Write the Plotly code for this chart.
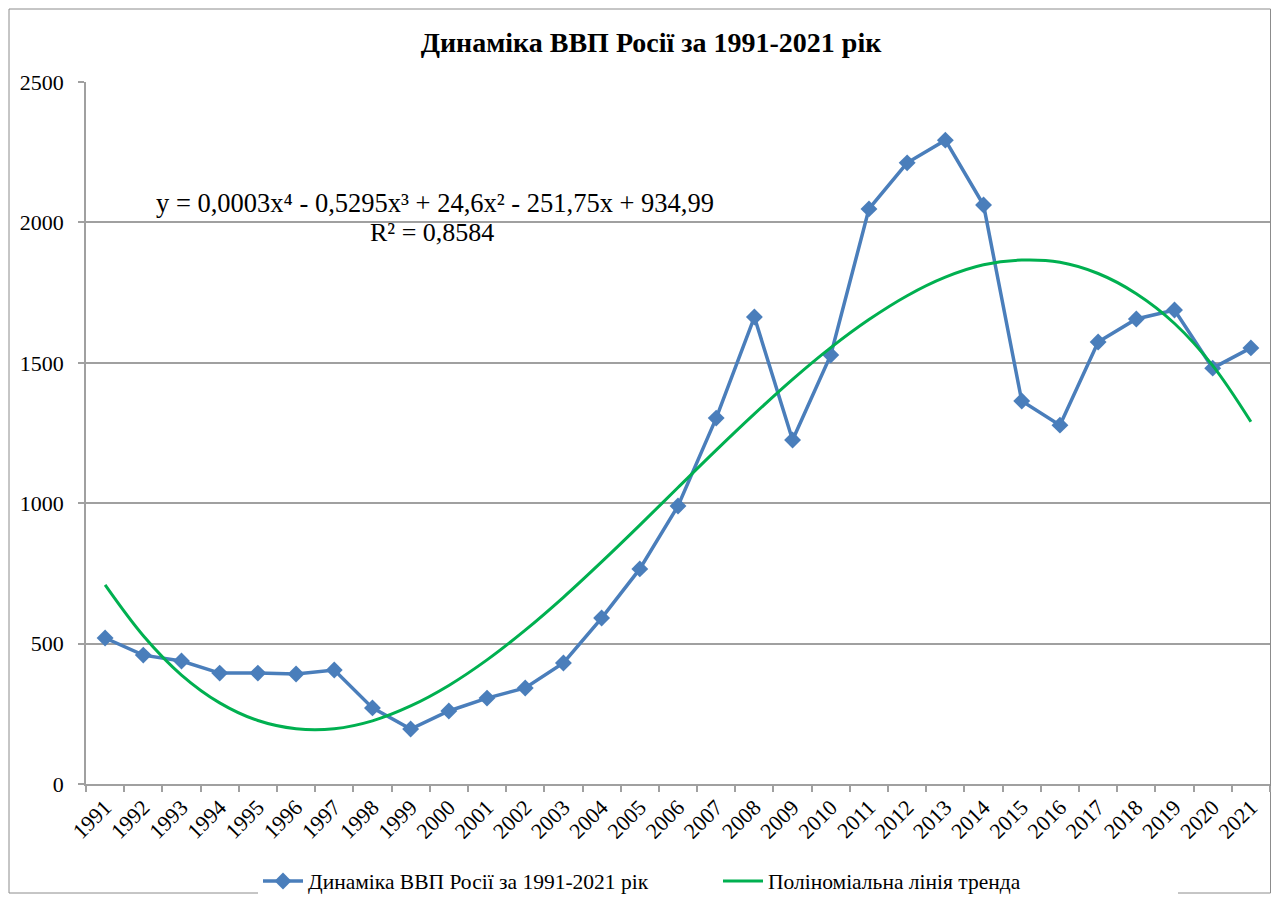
import plotly.graph_objects as go

years = [str(y) for y in range(1991, 2022)]
gdp = [520, 459, 438, 395, 395, 392, 406, 271, 196, 260, 306, 342, 431, 591, 766,
       990, 1303, 1663, 1225, 1528, 2048, 2212, 2293, 2062, 1364, 1278, 1574, 1656,
       1688, 1481, 1553]
trend = [709, 528, 388, 289, 226, 197, 197, 225, 278, 351, 442, 548, 665, 791, 922,
         1056, 1189, 1318, 1441, 1554, 1654, 1739, 1805, 1849, 1866, 1858, 1818, 1746,
         1640, 1490, 1290]
y_ticks = [0, 500, 1000, 1500, 2000, 2500]

FONT = "Liberation Serif"
GRID = "#a0a0a0"

# the page has an 8px body margin: figure coords = screen coords - 8
W, H = 1263, 887
PX0, PX1, PY0, PY1 = 86, 1270, 82, 784   # plot area in screen pixels
PW, PH = PX1 - PX0, PY1 - PY0


def px(sx):
    return (sx - PX0) / PW


def py(sy):
    return (PY1 - sy) / PH


fig = go.Figure()
fig.add_trace(go.Scatter(
    x=years, y=gdp, mode="lines+markers",
    name="Динаміка ВВП Росії за 1991-2021 рік",
    line=dict(color="#4a7ebb", width=3.5),
    marker=dict(symbol="diamond", size=13, color="#4a7ebb"),
))
fig.add_trace(go.Scatter(
    x=years, y=trend, mode="lines",
    name="Поліноміальна лінія тренда",
    line=dict(color="#00b050", width=3, shape="spline", smoothing=1.0),
))

fig.update_layout(
    width=W, height=H,
    paper_bgcolor="white", plot_bgcolor="white",
    margin=dict(l=PX0 - 8, r=W - (PX1 - 8), t=PY0 - 8, b=H - (PY1 - 8), autoexpand=False),
    font=dict(family=FONT, size=21, color="black"),
    title=dict(text="<b>Динаміка ВВП Росії за 1991-2021 рік</b>",
               x=px(651), xref="paper", xanchor="center",
               y=1 - (42 - 8) / H, yref="container", yanchor="middle",
               font=dict(family=FONT, size=28, color="black")),
    showlegend=True,
    legend=dict(orientation="h", x=px(718), xanchor="center",
                y=py(881), yanchor="middle",
                xref="paper", yref="paper",
                font=dict(family=FONT, size=21.5), itemwidth=40,
                entrywidth=405, tracegroupgap=0),
)
fig.update_xaxes(
    type="category", tickangle=-45, showgrid=False, automargin=False,
    showline=True, linecolor=GRID, linewidth=1.5,
    ticks="outside", tickson="boundaries", ticklen=6, tickcolor=GRID, tickwidth=1.5,
    tickfont=dict(family=FONT, size=22), range=[-0.5, 30.5],
)
fig.update_yaxes(
    range=[0, 2500], tickvals=y_ticks, showgrid=True, gridcolor=GRID, gridwidth=1.5,
    showline=True, linecolor=GRID, linewidth=1.5, zeroline=False, automargin=False,
    ticks="outside", ticklen=6, tickcolor=GRID, tickwidth=1.5,
    tickfont=dict(family=FONT, size=22), ticklabelstandoff=10,
)

fig.add_annotation(
    text="y = 0,0003x⁴ - 0,5295x³ + 24,6x² - 251,75x + 934,99",
    xref="paper", yref="paper", x=px(435), y=py(203),
    xanchor="center", yanchor="middle", showarrow=False,
    font=dict(family=FONT, size=26.5),
)
fig.add_annotation(
    text="R² = 0,8584",
    xref="paper", yref="paper", x=px(432), y=py(232),
    xanchor="center", yanchor="middle", showarrow=False,
    font=dict(family=FONT, size=26),
)

fig.add_shape(type="rect", xref="paper", yref="paper",
              x0=px(9), x1=px(1270.5), y0=py(893), y1=py(9),
              line=dict(color="#8c8c8c", width=1), layer="below")

fig.write_html("out.html")
